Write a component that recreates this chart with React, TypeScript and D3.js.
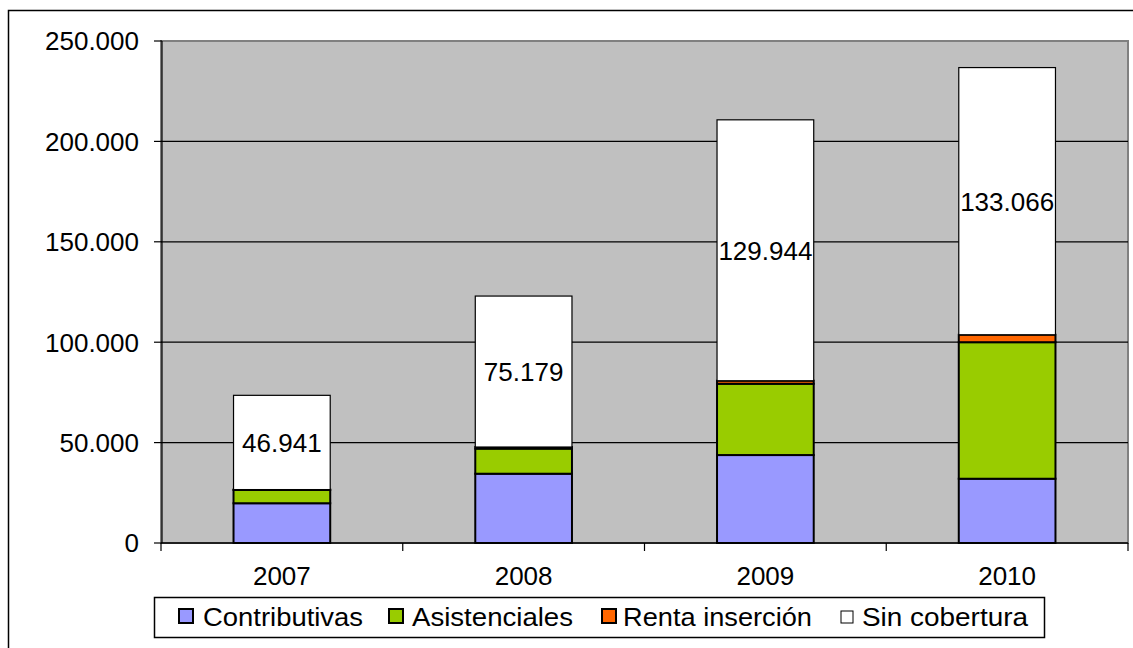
import React from "react";
import * as d3 from "d3";

// data
const years = ["2007", "2008", "2009", "2010"];
const contributivas = [19800, 34500, 43800, 32000];
const asistenciales = [6600, 12500, 35500, 68000];
const rentaInsercion = [200, 800, 1500, 3700];
const sinCobertura = [46941, 75179, 129944, 133066];
const seriesNames = ["Contributivas", "Asistenciales", "Renta inserción", "Sin cobertura"];
const seriesColors = ["#9999FF", "#99CC00", "#FF6600", "#FFFFFF"];
const yTicks = [0, 50000, 100000, 150000, 200000, 250000];

const W = 1133;
const H = 648;
const plot = { left: 161, right: 1128, top: 41, bottom: 543 };
// legend layout (swatch x, text x, text width)
const legendSwatchX = [179, 389, 602, 841];
const legendTextX = [203, 412, 623, 862];
const legendTextW = [160, 161, 189, 166];
const font = "'Liberation Sans', Arial, sans-serif";

const fmt = (v: number) => d3.format(",")(v).replace(/,/g, ".");

export default function App() {
  const rows = years.map((y, i) => ({
    year: y,
    c: contributivas[i],
    a: asistenciales[i],
    r: rentaInsercion[i],
    s: sinCobertura[i],
  }));
  const keys = ["c", "a", "r", "s"];
  const stacked = d3.stack<any>().keys(keys)(rows);

  const x = d3.scaleBand().domain(years).range([plot.left, plot.right]).paddingInner(0.6).paddingOuter(0.3);
  const xOuter = d3.scaleBand().domain(years).range([plot.left, plot.right]);
  const y = d3.scaleLinear().domain([0, 250000]).range([plot.bottom, plot.top]);

  return (
    <svg width={W} height={H} style={{ position: "absolute", left: 0, top: 0, background: "#fff" }} fontFamily={font}>
      {/* outer frame */}
      <rect x={8.5} y={10.5} width={W + 20} height={H + 20} fill="none" stroke="#000" strokeWidth={1.5} />

      {/* plot area */}
      <rect x={plot.left} y={plot.top} width={plot.right - plot.left} height={plot.bottom - plot.top} fill="#C0C0C0" stroke="#808080" strokeWidth={2} />

      {/* gridlines + y ticks */}
      {yTicks.map((t) => (
        <g key={t}>
          {t > 0 && t < 250000 && (
            <line x1={plot.left} x2={plot.right} y1={y(t)} y2={y(t)} stroke="#000" strokeWidth={1.2} />
          )}
          <line x1={154} x2={plot.left + 1} y1={y(t)} y2={y(t)} stroke="#000" strokeWidth={1.2} />
          <text x={139} y={y(t)} dy="0.36em" textAnchor="end" fontSize={26} fill="#000">
            {fmt(t)}
          </text>
        </g>
      ))}

      {/* bars */}
      {stacked.map((layer, li) => (
        <g key={li}>
          {layer.map((d, i) => (
            <rect
              key={i}
              x={x(years[i])}
              width={x.bandwidth()}
              y={y(d[1])}
              height={y(d[0]) - y(d[1])}
              fill={seriesColors[li]}
              stroke="#000"
              strokeWidth={li === 3 ? 1.2 : 2}
            />
          ))}
        </g>
      ))}

      {/* data labels on Sin cobertura */}
      {stacked[3].map((d, i) => (
        <text
          key={i}
          x={(x(years[i]) as number) + x.bandwidth() / 2}
          y={(y(d[0]) + y(d[1])) / 2}
          dy="0.36em"
          textAnchor="middle"
          fontSize={26}
          fill="#000"
        >
          {fmt(sinCobertura[i])}
        </text>
      ))}

      {/* axes */}
      <line x1={plot.left + 1} x2={plot.left + 1} y1={plot.top} y2={plot.bottom} stroke="#000" strokeWidth={1.2} />
      <line x1={plot.left} x2={plot.right} y1={plot.bottom} y2={plot.bottom} stroke="#000" strokeWidth={1.5} />
      {years.map((yr) => (
        <line key={yr} x1={xOuter(yr)} x2={xOuter(yr)} y1={plot.bottom} y2={plot.bottom + 8} stroke="#000" strokeWidth={1.2} />
      ))}
      <line x1={plot.right} x2={plot.right} y1={plot.bottom} y2={plot.bottom + 8} stroke="#000" strokeWidth={1.2} />
      {years.map((yr) => (
        <text key={yr} x={(xOuter(yr) as number) + xOuter.bandwidth() / 2} y={585} textAnchor="middle" fontSize={26} fill="#000">
          {yr}
        </text>
      ))}

      {/* legend */}
      <rect x={154.5} y={597.5} width={890} height={40} fill="#fff" stroke="#000" strokeWidth={1.5} />
      {seriesNames.map((n, i) => (
        <g key={n}>
          <rect
            x={legendSwatchX[i]}
            y={i === 3 ? 611 : 609}
            width={i === 3 ? 12 : 14}
            height={i === 3 ? 12 : 14}
            fill={seriesColors[i]}
            stroke="#000"
            strokeWidth={i === 3 ? 1 : 2}
          />
          <text
            x={legendTextX[i]}
            y={626}
            fontSize={26}
            fill="#000"
            textLength={legendTextW[i]}
            lengthAdjust="spacingAndGlyphs"
          >
            {n}
          </text>
        </g>
      ))}
    </svg>
  );
}
